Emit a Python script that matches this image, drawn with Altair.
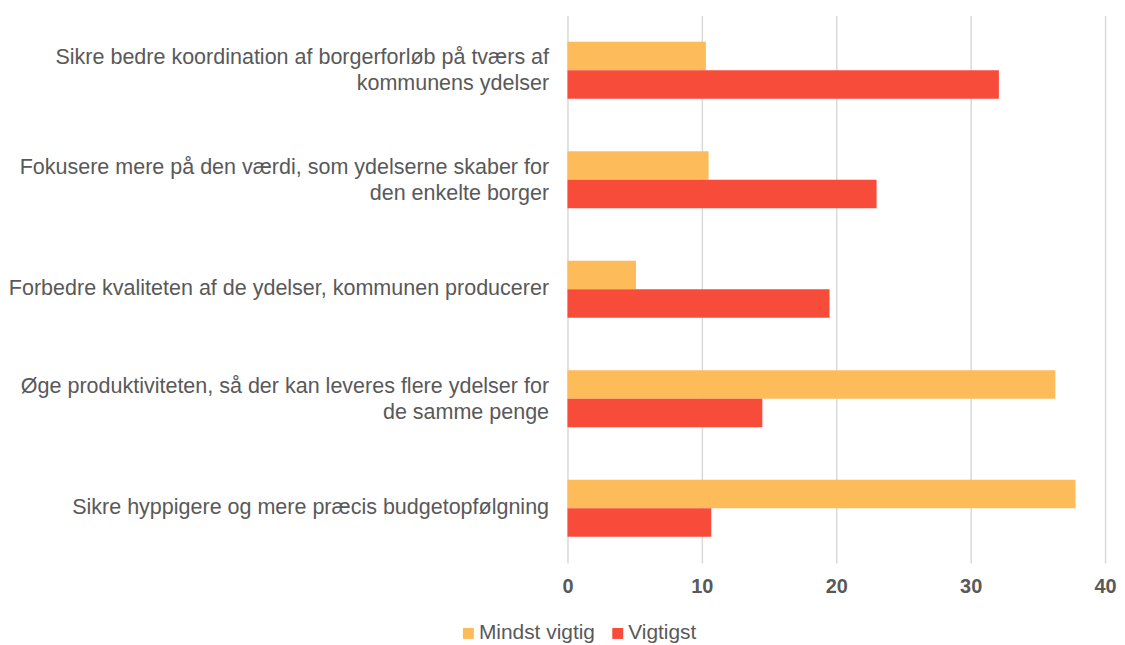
import altair as alt
import pandas as pd

categories = [
    ["Sikre bedre koordination af borgerforløb på tværs af", "kommunens ydelser"],
    ["Fokusere mere på den værdi, som ydelserne skaber for", "den enkelte borger"],
    ["Forbedre kvaliteten af de ydelser, kommunen producerer"],
    ["Øge produktiviteten, så der kan leveres flere ydelser for", "de samme penge"],
    ["Sikre hyppigere og mere præcis budgetopfølgning"],
]
series = ["Mindst vigtig", "Vigtigst"]
mindst_vigtig = [10.3, 10.5, 5.1, 36.3, 37.8]
vigtigst = [32.1, 23.0, 19.5, 14.5, 10.7]
colors = ["#FEBB5A", "#F84C3B"]

keys = ["|".join(c) for c in categories]
rows = []
for k, a, b in zip(keys, mindst_vigtig, vigtigst):
    rows.append({"cat": k, "serie": series[0], "value": a})
    rows.append({"cat": k, "serie": series[1], "value": b})
df = pd.DataFrame(rows)

label_expr = "split(datum.value, '|')"

chart = alt.Chart(df).mark_bar().encode(
    y=alt.Y("cat:N", sort=keys, title=None,
            scale=alt.Scale(paddingInner=0.48, paddingOuter=0.24),
            axis=alt.Axis(labelExpr=label_expr, labelFontSize=21.6, labelColor="#595959",
                          labelFont="Liberation Sans", labelLineHeight=26,
                          labelOffset={"condition": {"test": "indexof(datum.value, '|') >= 0", "value": -12}, "value": 0},
                          labelPadding=19, ticks=False, domain=False, labelLimit=800)),
    x=alt.X("value:Q", title=None,
            scale=alt.Scale(domain=[0, 40], nice=False),
            axis=alt.Axis(values=[0, 10, 20, 30, 40], labelFontSize=20, labelFontWeight="bold",
                          labelColor="#595959", labelFont="Liberation Sans",
                          labelPadding=14, ticks=False, domain=False, labelFlush=False,
                          grid=True, gridColor="#d9d9d9", gridWidth=1.5)),
    yOffset=alt.YOffset("serie:N", sort=series),
    color=alt.Color("serie:N", sort=series,
                    scale=alt.Scale(domain=series, range=colors),
                    legend=alt.Legend(title=None, orient="none", direction="horizontal",
                                      legendX=-110, legendY=610,
                                      symbolType="square", symbolSize=121,
                                      symbolStrokeWidth=0,
                                      labelFontSize=21, labelColor="#595959",
                                      labelFont="Liberation Sans", labelOffset=0,
                                      columnPadding=12)),
).properties(
    width=540, height=550,
    padding={"left": 0, "top": 6, "right": 0, "bottom": 40},
).configure_view(stroke=None)

chart.save("out.html", embed_options={"renderer": "svg", "actions": False})
